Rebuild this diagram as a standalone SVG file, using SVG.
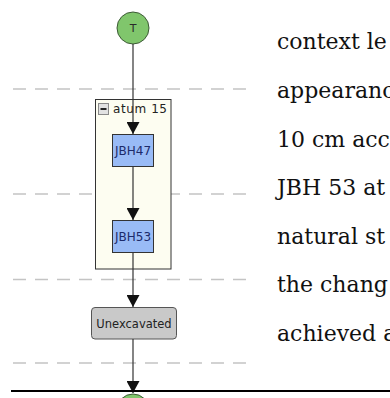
<svg xmlns="http://www.w3.org/2000/svg" width="390" height="398" viewBox="0 0 390 398">
  <style>
    .dash { stroke: #c4c4c4; stroke-width: 1.5; stroke-dasharray: 13 9; fill: none; }
    .edge { stroke: #333; stroke-width: 1.2; fill: none; marker-end: url(#arrow); }
    .ctx { fill: #99bbf6; stroke: #333; stroke-width: 1; }
    .ctxt { font-family: "DejaVu Sans", Verdana, sans-serif; font-size: 12px; fill: #1c2a6a; text-anchor: middle; }
    .term { fill: #80c66c; stroke: #3d5a36; stroke-width: 1; }
    .prose { font-family: "DejaVu Serif", "Liberation Serif", serif; font-size: 22px; fill: #111; }
  </style>
  <defs>
    <marker id="arrow" viewBox="0 0 12 13" refX="12" refY="6.5" markerWidth="12" markerHeight="13" markerUnits="userSpaceOnUse" orient="auto">
      <path d="M0,0 L12,6.5 L0,13 Z" fill="#111"/>
    </marker>
  </defs>
  <rect width="390" height="398" fill="#ffffff"/>

  <g id="phase-lines">
    <line class="dash" x1="13" y1="89" x2="250" y2="89"/>
    <line class="dash" x1="13" y1="194" x2="250" y2="194"/>
    <line class="dash" x1="13" y1="279.5" x2="250" y2="279.5"/>
    <line class="dash" x1="13" y1="363" x2="250" y2="363"/>
  </g>

  <g id="stratum15">
    <rect x="95.5" y="99.5" width="75.5" height="169.5" fill="#fdfdf1" stroke="#333" stroke-width="1"/>
    <text x="113" y="113" font-family="DejaVu Sans, Verdana, sans-serif" font-size="12px" fill="#222" textLength="54" lengthAdjust="spacing">atum 15</text>
    <rect x="98.5" y="103.5" width="10" height="11" fill="#e2e2e2" stroke="#8a8a8a" stroke-width="1"/>
    <line x1="100.5" y1="109" x2="106.5" y2="109" stroke="#111" stroke-width="1.8"/>
  </g>

  <g id="start">
    <circle class="term" cx="133" cy="28" r="16"/>
    <text x="133" y="32" font-family="DejaVu Sans, Verdana, sans-serif" font-size="11px" fill="#2a2a2a" text-anchor="middle">T</text>
  </g>

  <g id="JBH47">
    <rect class="ctx" x="112.5" y="134.5" width="41" height="32"/>
    <text class="ctxt" x="133" y="154.5">JBH47</text>
  </g>

  <g id="JBH53">
    <rect class="ctx" x="112.5" y="220.5" width="41" height="32"/>
    <text class="ctxt" x="133" y="240.5">JBH53</text>
  </g>

  <g id="unexcavated">
    <rect x="91.5" y="307.5" width="85" height="31.5" rx="3.5" ry="3.5" fill="#c9c9c9" stroke="#555" stroke-width="1"/>
    <text x="134" y="327.5" font-family="DejaVu Sans, Verdana, sans-serif" font-size="11.5px" fill="#222" text-anchor="middle">Unexcavated</text>
  </g>

  <g id="end">
    <circle class="term" cx="133" cy="410" r="16"/>
  </g>

  <g id="connectors">
    <line class="edge" x1="133" y1="44" x2="133" y2="134"/>
    <line class="edge" x1="133" y1="166.5" x2="133" y2="220"/>
    <line class="edge" x1="133" y1="252.5" x2="133" y2="307"/>
    <line class="edge" x1="133" y1="339" x2="133" y2="393"/>
  </g>

  <line x1="11" y1="391" x2="390" y2="391" stroke="#000" stroke-width="2"/>

  <g id="prose">
    <text class="prose" x="277" y="49">context le</text>
    <text class="prose" x="277" y="97.5">appearanc</text>
    <text class="prose" x="277" y="146.5">10 cm acc</text>
    <text class="prose" x="277" y="194.5">JBH 53 at</text>
    <text class="prose" x="277" y="243.5">natural st</text>
    <text class="prose" x="277" y="292">the chang</text>
    <text class="prose" x="277" y="341">achieved a</text>
  </g>
</svg>
